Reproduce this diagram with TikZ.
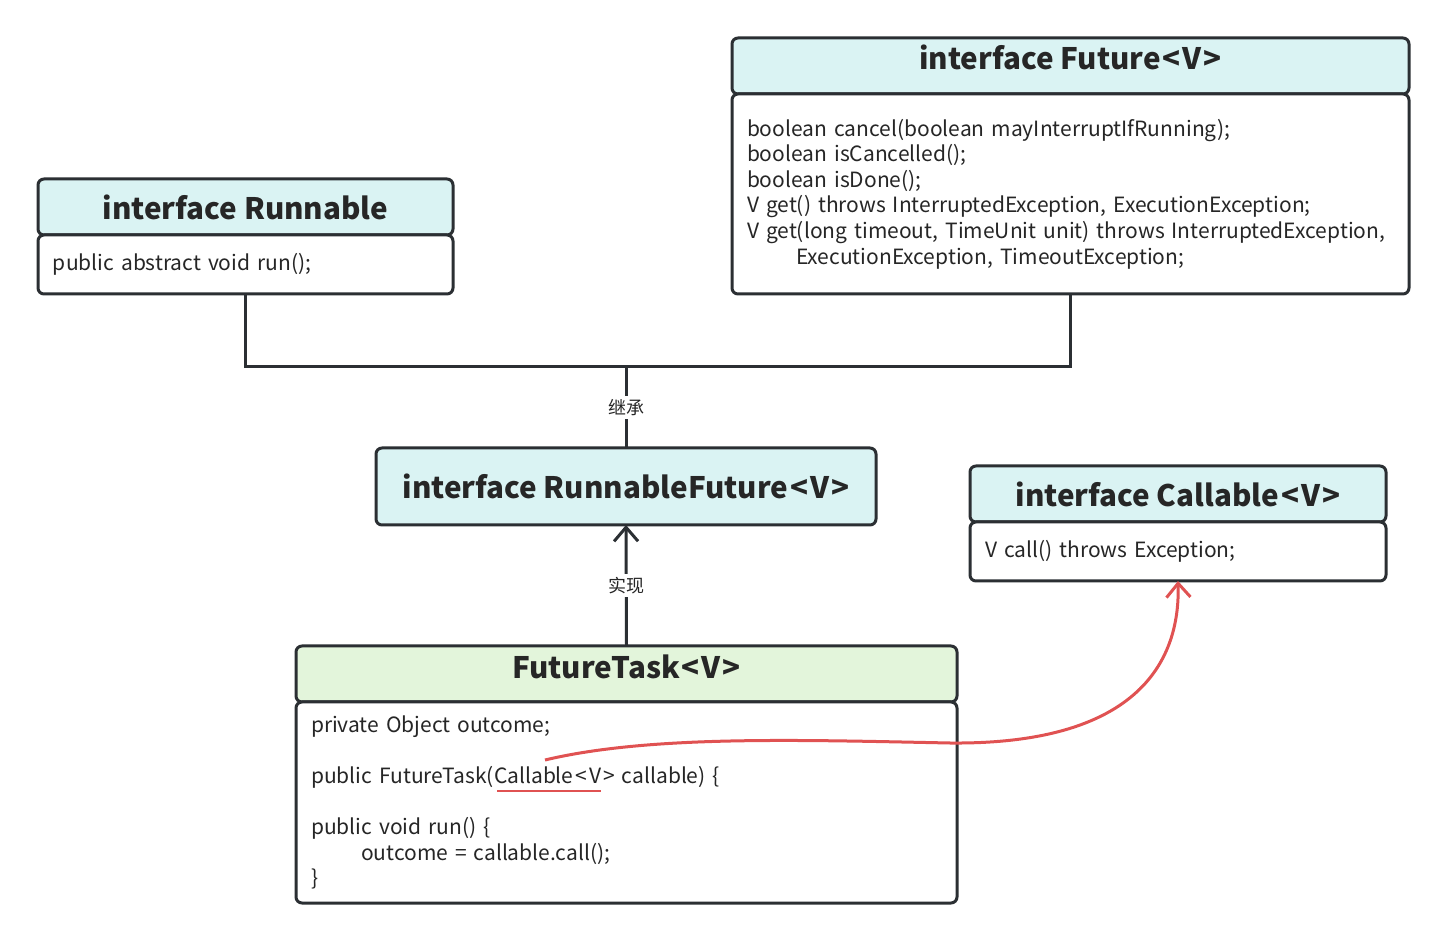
\documentclass[tikz,border=0pt]{standalone}
\usepackage{fontspec}
\setmainfont{Noto Sans CJK SC}
\usetikzlibrary{arrows.meta}

\definecolor{linec}{HTML}{2B2F33}
\definecolor{headc}{HTML}{DAF3F3}
\definecolor{taskc}{HTML}{E3F5DB}
\definecolor{redc}{HTML}{E05252}
\definecolor{textc}{HTML}{262626}

% type parameter, spaced a little wider
\newcommand{\gen}[1]{\kern1pt<\kern1pt#1\kern1pt>}

\tikzset{
  box/.style={draw=linec, line width=1.5pt, rounded corners=3pt, inner sep=0pt, outer sep=0pt, text=textc},
  hdr/.style={box, fill=headc, minimum height=28pt, font=\bfseries\fontsize{14.8}{16}\selectfont},
  bodybox/.style={box, fill=white, align=left, inner xsep=7.5pt, font=\fontsize{10.5}{12.8}\selectfont},
  conn/.style={draw=linec, line width=1.5pt},
  lbl/.style={fill=white, inner sep=1.5pt, text=textc, font=\fontsize{9}{10}\selectfont},
  tip/.style={-{Straight Barb[length=7pt, width=12pt]}},
}

\begin{document}
\begin{tikzpicture}[x=0.5pt, y=-0.5pt]
  \useasboundingbox (0,0) rectangle (1446,940);

  % Runnable
  \node[hdr, anchor=north west, minimum width=207.5pt] (runHead) at (38,179) {interface Runnable};
  \node[bodybox, anchor=north west, minimum width=207.5pt, text width=192.5pt, minimum height=29.5pt]
    (runBody) at (runHead.south west) {public abstract void run();};

  % Future
  \node[hdr, anchor=north west, minimum width=338.5pt] (futHead) at (732,38) {\raisebox{9pt}{interface Future\gen{V}}};
  \node[bodybox, anchor=north west, minimum width=338.5pt, text width=323.5pt, minimum height=100pt]
    (futBody) at (futHead.south west) {boolean cancel(boolean mayInterruptIfRunning);\\
      boolean isCancelled();\\
      boolean isDone();\\
      V get() throws InterruptedException, ExecutionException;\\
      V get(long timeout, TimeUnit unit) throws InterruptedException,\\
      \hspace*{24.5pt}ExecutionException, TimeoutException;};

  % RunnableFuture
  \node[box, fill=headc, anchor=north west, minimum width=250pt, minimum height=38.5pt,
    font=\bfseries\fontsize{14.8}{16}\selectfont] (rfBox) at (376,448) {interface RunnableFuture\gen{V}};

  % Callable
  \node[hdr, anchor=north west, minimum width=208pt] (callHead) at (970,466) {interface Callable\gen{V}};
  \node[bodybox, anchor=north west, minimum width=208pt, text width=193pt, minimum height=29.5pt]
    (callBody) at (callHead.south west) {V call() throws Exception;};

  % FutureTask
  \node[hdr, fill=taskc, anchor=north west, minimum width=330.5pt] (taskHead) at (296,646) {\raisebox{7.5pt}{FutureTask\gen{V}}};
  \node[bodybox, anchor=north west, minimum width=330.5pt, text width=315.5pt, minimum height=100.5pt]
    (taskBody) at (taskHead.south west) {private Object outcome;\\[12.8pt]
      public FutureTask(Callable\gen{V} callable) \{\\[12.8pt]
      public void run() \{\\
      \hspace*{25pt}outcome = callable.call();\\
      \}};

  % connectors
  \coordinate (junc) at (626,367);
  \draw[conn] (runBody.south) |- (junc) -| (futBody.south);
  \draw[conn] (junc) -- node[lbl] {继承} (rfBox.north);
  \draw[conn, tip] (taskHead.north) -- node[lbl] {实现} (rfBox.south);

  \draw[redc, line width=1pt] (497,791) -- (601,791);
  \coordinate (redStart) at (545,760);
  \draw[redc, line width=1.5pt, tip] (redStart) .. controls (650,735) and (800,740) .. (950,743)
    .. controls (1150,745) and (1180,650) .. (callBody.south);

\end{tikzpicture}
\end{document}
